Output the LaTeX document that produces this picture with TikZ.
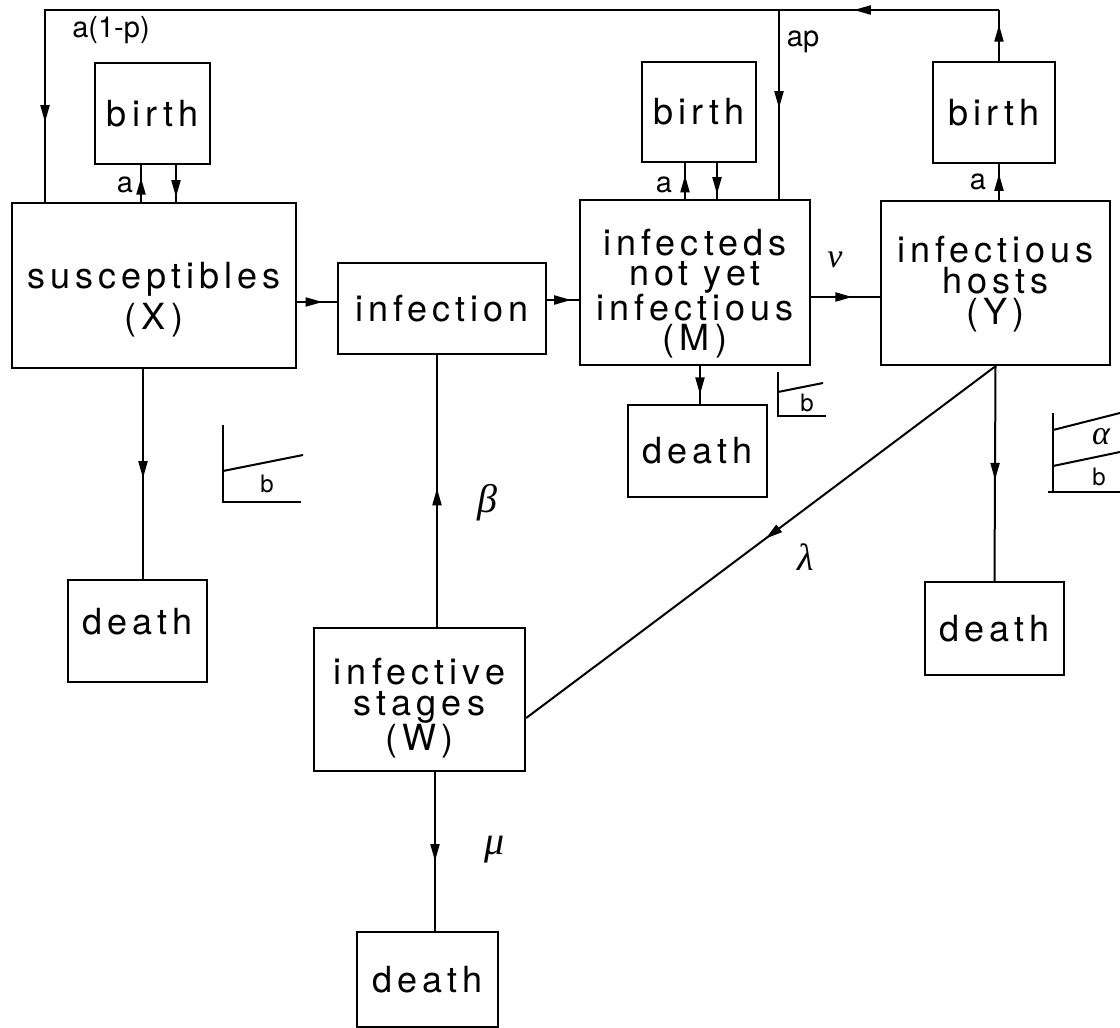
\documentclass[tikz,border=0pt]{standalone}
\usepackage{fontspec}
\newfontfamily\boxfont{TeX Gyre Heros}[LetterSpace=14]
\newfontfamily\labfont{TeX Gyre Heros}
\newfontfamily\grkfont{Liberation Serif}
\usetikzlibrary{arrows.meta,decorations.markings}
\tikzset{
  box/.style={draw, line width=2.4pt, inner sep=0pt, align=center,
    font=\boxfont\fontsize{36}{30}\selectfont},
  boxtext/.style={inner sep=0pt, align=center,
    font=\boxfont\fontsize{36}{#1}\selectfont},
  flow/.style={line width=2pt},
  arrowat/.style={flow, postaction={decorate},
    decoration={markings, mark=at position #1 with {\arrow{Triangle[length=17pt,width=9pt]}}}},
  lab/.style={inner sep=0pt, font=\labfont\fontsize{29}{31}\selectfont},
  greek/.style={inner sep=0pt, font=\grkfont\itshape\fontsize{#1}{#1}\selectfont},
  ratelab/.style={inner sep=0pt, font=\labfont\fontsize{24}{26}\selectfont},
  rate/.style={line width=2pt},
}
\begin{document}
\begin{tikzpicture}[x=1pt,y=-1pt]
\useasboundingbox (0,0) rectangle (1120,1028);

% compartments
\node[box, minimum width=115pt, minimum height=101pt] (birth1) at (152.5,113.5) {birth};
\node[box, minimum width=284pt, minimum height=165pt] (X) at (154,285.5) {};
\node[boxtext=34] (Xt) at (154,300) {susceptibles\\[6pt](X)};
\node[box, minimum width=208pt, minimum height=91pt] (inf) at (442,308.5) {infection};
\node[box, minimum width=114pt, minimum height=100pt] (birth2) at (699,112) {birth};
\node[box, minimum width=230pt, minimum height=165pt] (M) at (695,282.5) {};
\node[boxtext=30] (Mt) at (695,294) {infecteds\\not yet\\infectious\\(M)};
\node[box, minimum width=122pt, minimum height=101pt] (birth3) at (994,112.5) {birth};
\node[box, minimum width=229pt, minimum height=164pt] (Y) at (995.5,283) {};
\node[boxtext=31] (Yt) at (995.5,284.5) {infectious\\hosts\\(Y)};
\node[box, minimum width=139pt, minimum height=102pt] (deathX) at (137.5,631) {};
\node[boxtext=40] (deathXt) at (137.5,622) {death};
\node[box, minimum width=139pt, minimum height=92pt] (deathM) at (697.5,451) {death};
\node[box, minimum width=139pt, minimum height=93pt] (deathY) at (994.5,628.5) {death};
\node[box, minimum width=211pt, minimum height=143pt] (W) at (419.5,699.5) {};
\node[boxtext=31] (Wt) at (419.5,708.5) {infective\\stages\\(W)};
\node[box, minimum width=141pt, minimum height=95pt] (deathW) at (427.5,979.5) {death};

% return loop of births from infectious hosts
\coordinate (tr) at (999,10);
\coordinate (tl) at (45,10);
\coordinate (apT) at (779,10);
\draw[arrowat=0.71] (birth3.north -| tr) -- (tr);
\draw[arrowat=0.66] (tr) -- (apT);
\draw[arrowat=0.914] (apT) -- (tl) -- (X.north -| tl);
\draw[arrowat=0.52] (apT) -- (M.north -| apT);

% births
\draw[arrowat=0.66] ([xshift=-13pt]X.north) -- ([xshift=-13pt]X.north |- birth1.south);
\draw[arrowat=0.87] ([xshift=22pt]X.north |- birth1.south) -- ([xshift=22pt]X.north);
\draw[arrowat=0.66] ([xshift=-10pt]M.north) -- ([xshift=-10pt]M.north |- birth2.south);
\draw[arrowat=0.87] ([xshift=22pt]M.north |- birth2.south) -- ([xshift=22pt]M.north);
\draw[arrowat=0.73] (Y.north -| tr) -- (birth3.south -| tr);

% infection chain
\draw[arrowat=0.64] ([yshift=-16.5pt]X.east) -- ([yshift=6.5pt]inf.west);
\draw[arrowat=0.76] ([yshift=8.5pt]inf.east) -- ([yshift=-17.5pt]M.west);
\draw[arrowat=0.6] ([yshift=-14.5pt]M.east) -- ([yshift=-14pt]Y.west);
\draw[arrowat=0.51] ([xshift=17.5pt]W.north) -- ([xshift=-5pt]inf.south);
\draw[arrowat=0.49] (Y.south) -- ([yshift=-18.5pt]W.east);

% deaths
\draw[arrowat=0.52] ([xshift=-11pt]X.south) -- ([xshift=5.5pt]deathX.north);
\draw[arrowat=0.75] ([xshift=5pt]M.south) -- ([xshift=2.5pt]deathM.north);
\draw[arrowat=0.53] (Y.south) -- (deathY.north);
\draw[arrowat=0.56] ([xshift=15.5pt]W.south) -- ([xshift=7.5pt]deathW.north);

% rate labels
\node[lab] (l1p) at (111,30) {a(1-p)};
\node[lab] (lap) at (803,42) {ap};
\node[lab] (la1) at (125,185) {a};
\node[lab] (la2) at (664,185) {a};
\node[lab] (la3) at (978,182) {a};
\node[greek=34] (lnu) at (835,260) {ν};
\node[greek=40] (lbeta) at (487,503) {β};
\node[greek=38] (llam) at (806,557) {λ};
\node[greek=40] (lmu) at (495,850) {μ};

% death-rate brackets
\draw[rate] (223,425) -- (223,502) -- (301,502);
\draw[rate] (223,471) -- (303,455);
\node[ratelab] (bX) at (267,484) {b};
\draw[rate] (778,372) -- (778,416) -- (826,416);
\draw[rate] (778,392) -- (823,383);
\node[ratelab] (bM) at (807,403) {b};
\draw[rate] (1053,413) -- (1053,492);
\draw[rate] (1048,492) -- (1120,492);
\draw[rate] (1053,430) -- (1120,413);
\draw[rate] (1053,466) -- (1120,452);
\node[greek=34] (lalpha) at (1101,437) {α};
\node[ratelab] (bY) at (1099,477) {b};
\end{tikzpicture}
\end{document}
